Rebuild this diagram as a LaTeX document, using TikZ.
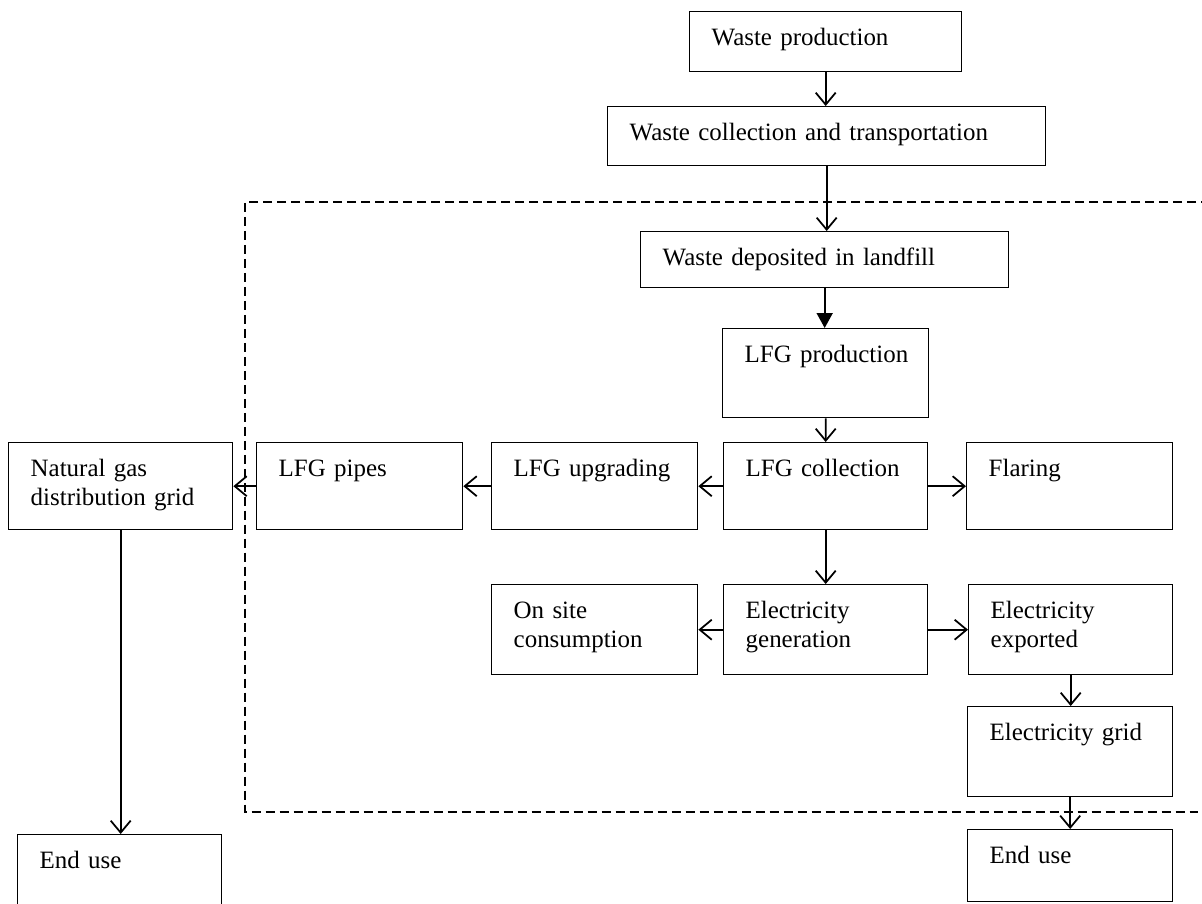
\documentclass[tikz,border=0pt]{standalone}
\usepackage{fontspec}
\setmainfont{Liberation Serif}
\usetikzlibrary{arrows.meta}
\tikzset{
	stage/.style={draw, line width=0.8pt, anchor=north west, align=left,
		inner xsep=0.44cm, inner ysep=0pt, text height=0.68cm,
		font=\fontsize{14.2}{16.2}\selectfont},
	flow/.style={line width=1pt,
		-{Straight Barb[length=0.24cm,width=0.4cm,line width=1pt]}},
	feed/.style={line width=1pt, -{Triangle[length=0.3cm,width=0.32cm]}},
	boundary/.style={line width=0.75pt, dash pattern=on 0.18cm off 0.1cm}
}

\begin{document}
\begin{tikzpicture}[x=0.02cm,y=-0.02cm]
		\clip (0,0) rectangle (1202,903);
		\node[stage,text width=4.56cm,text depth=0.52cm] (wprod) at (689,11) {Waste production};
		\node[stage,text width=7.88cm,text depth=0.50cm] (wcoll) at (607,106) {Waste collection and transportation};
		\node[stage,text width=6.48cm,text depth=0.44cm] (wdep) at (640,231) {Waste deposited in landfill};
		\node[stage,text width=3.24cm,text depth=1.10cm] (lfgprod) at (722,328) {\mbox{LFG production}};
		\node[stage,text width=3.20cm,text depth=1.06cm] (lfgcoll) at (723,442) {LFG collection};
		\node[stage,text width=3.24cm,text depth=1.06cm] (flaring) at (966,442) {Flaring};
		\node[stage,text width=3.24cm,text depth=1.06cm] (upgrade) at (491,442) {LFG upgrading};
		\node[stage,text width=3.24cm,text depth=1.06cm] (pipes) at (256,442) {LFG pipes};
		\node[stage,text width=3.60cm,text depth=1.06cm] (gasgrid) at (8,442) {Natural gas\\distribution grid};
		\node[stage,text width=3.20cm,text depth=1.12cm] (elecgen) at (723,584) {Electricity\\generation};
		\node[stage,text width=3.24cm,text depth=1.12cm] (onsite) at (491,584) {On site\\consumption};
		\node[stage,text width=3.20cm,text depth=1.12cm] (elecexp) at (968,584) {Electricity\\exported};
		\node[stage,text width=3.22cm,text depth=1.12cm] (elecgrid) at (967,706) {Electricity grid};
		\node[stage,text width=3.22cm,text depth=0.76cm] (useright) at (967,829) {End use};
		\node[stage,text width=3.20cm,text depth=0.76cm] (useleft) at (17,834) {End use};
		\draw[boundary] (1210,202) -- (245,202) -- (245,812) -- (1210,812);
		\draw[flow] (wprod.south) -- (wprod.south |- wcoll.north);
		\draw[flow] (wcoll.south) -- (wcoll.south |- wdep.north);
		\draw[feed] (wdep.south) -- (wdep.south |- lfgprod.north);
		\draw[flow] (lfgprod) -- (lfgcoll);
		\draw[flow] (lfgcoll) -- (elecgen);
		\draw[flow] (lfgcoll) -- (flaring);
		\draw[flow] (lfgcoll) -- (upgrade);
		\draw[flow] (upgrade) -- (pipes);
		\draw[flow] (pipes) -- (gasgrid);
		\draw[flow] (elecgen) -- (onsite);
		\draw[flow] (elecgen) -- (elecexp);
		\draw[flow] (elecexp.south) -- (elecexp.south |- elecgrid.north);
		\draw[flow] (elecgrid.south) -- (elecgrid.south |- useright.north);
		\draw[flow] (gasgrid.south) -- (gasgrid.south |- useleft.north);
\end{tikzpicture}
\end{document}
